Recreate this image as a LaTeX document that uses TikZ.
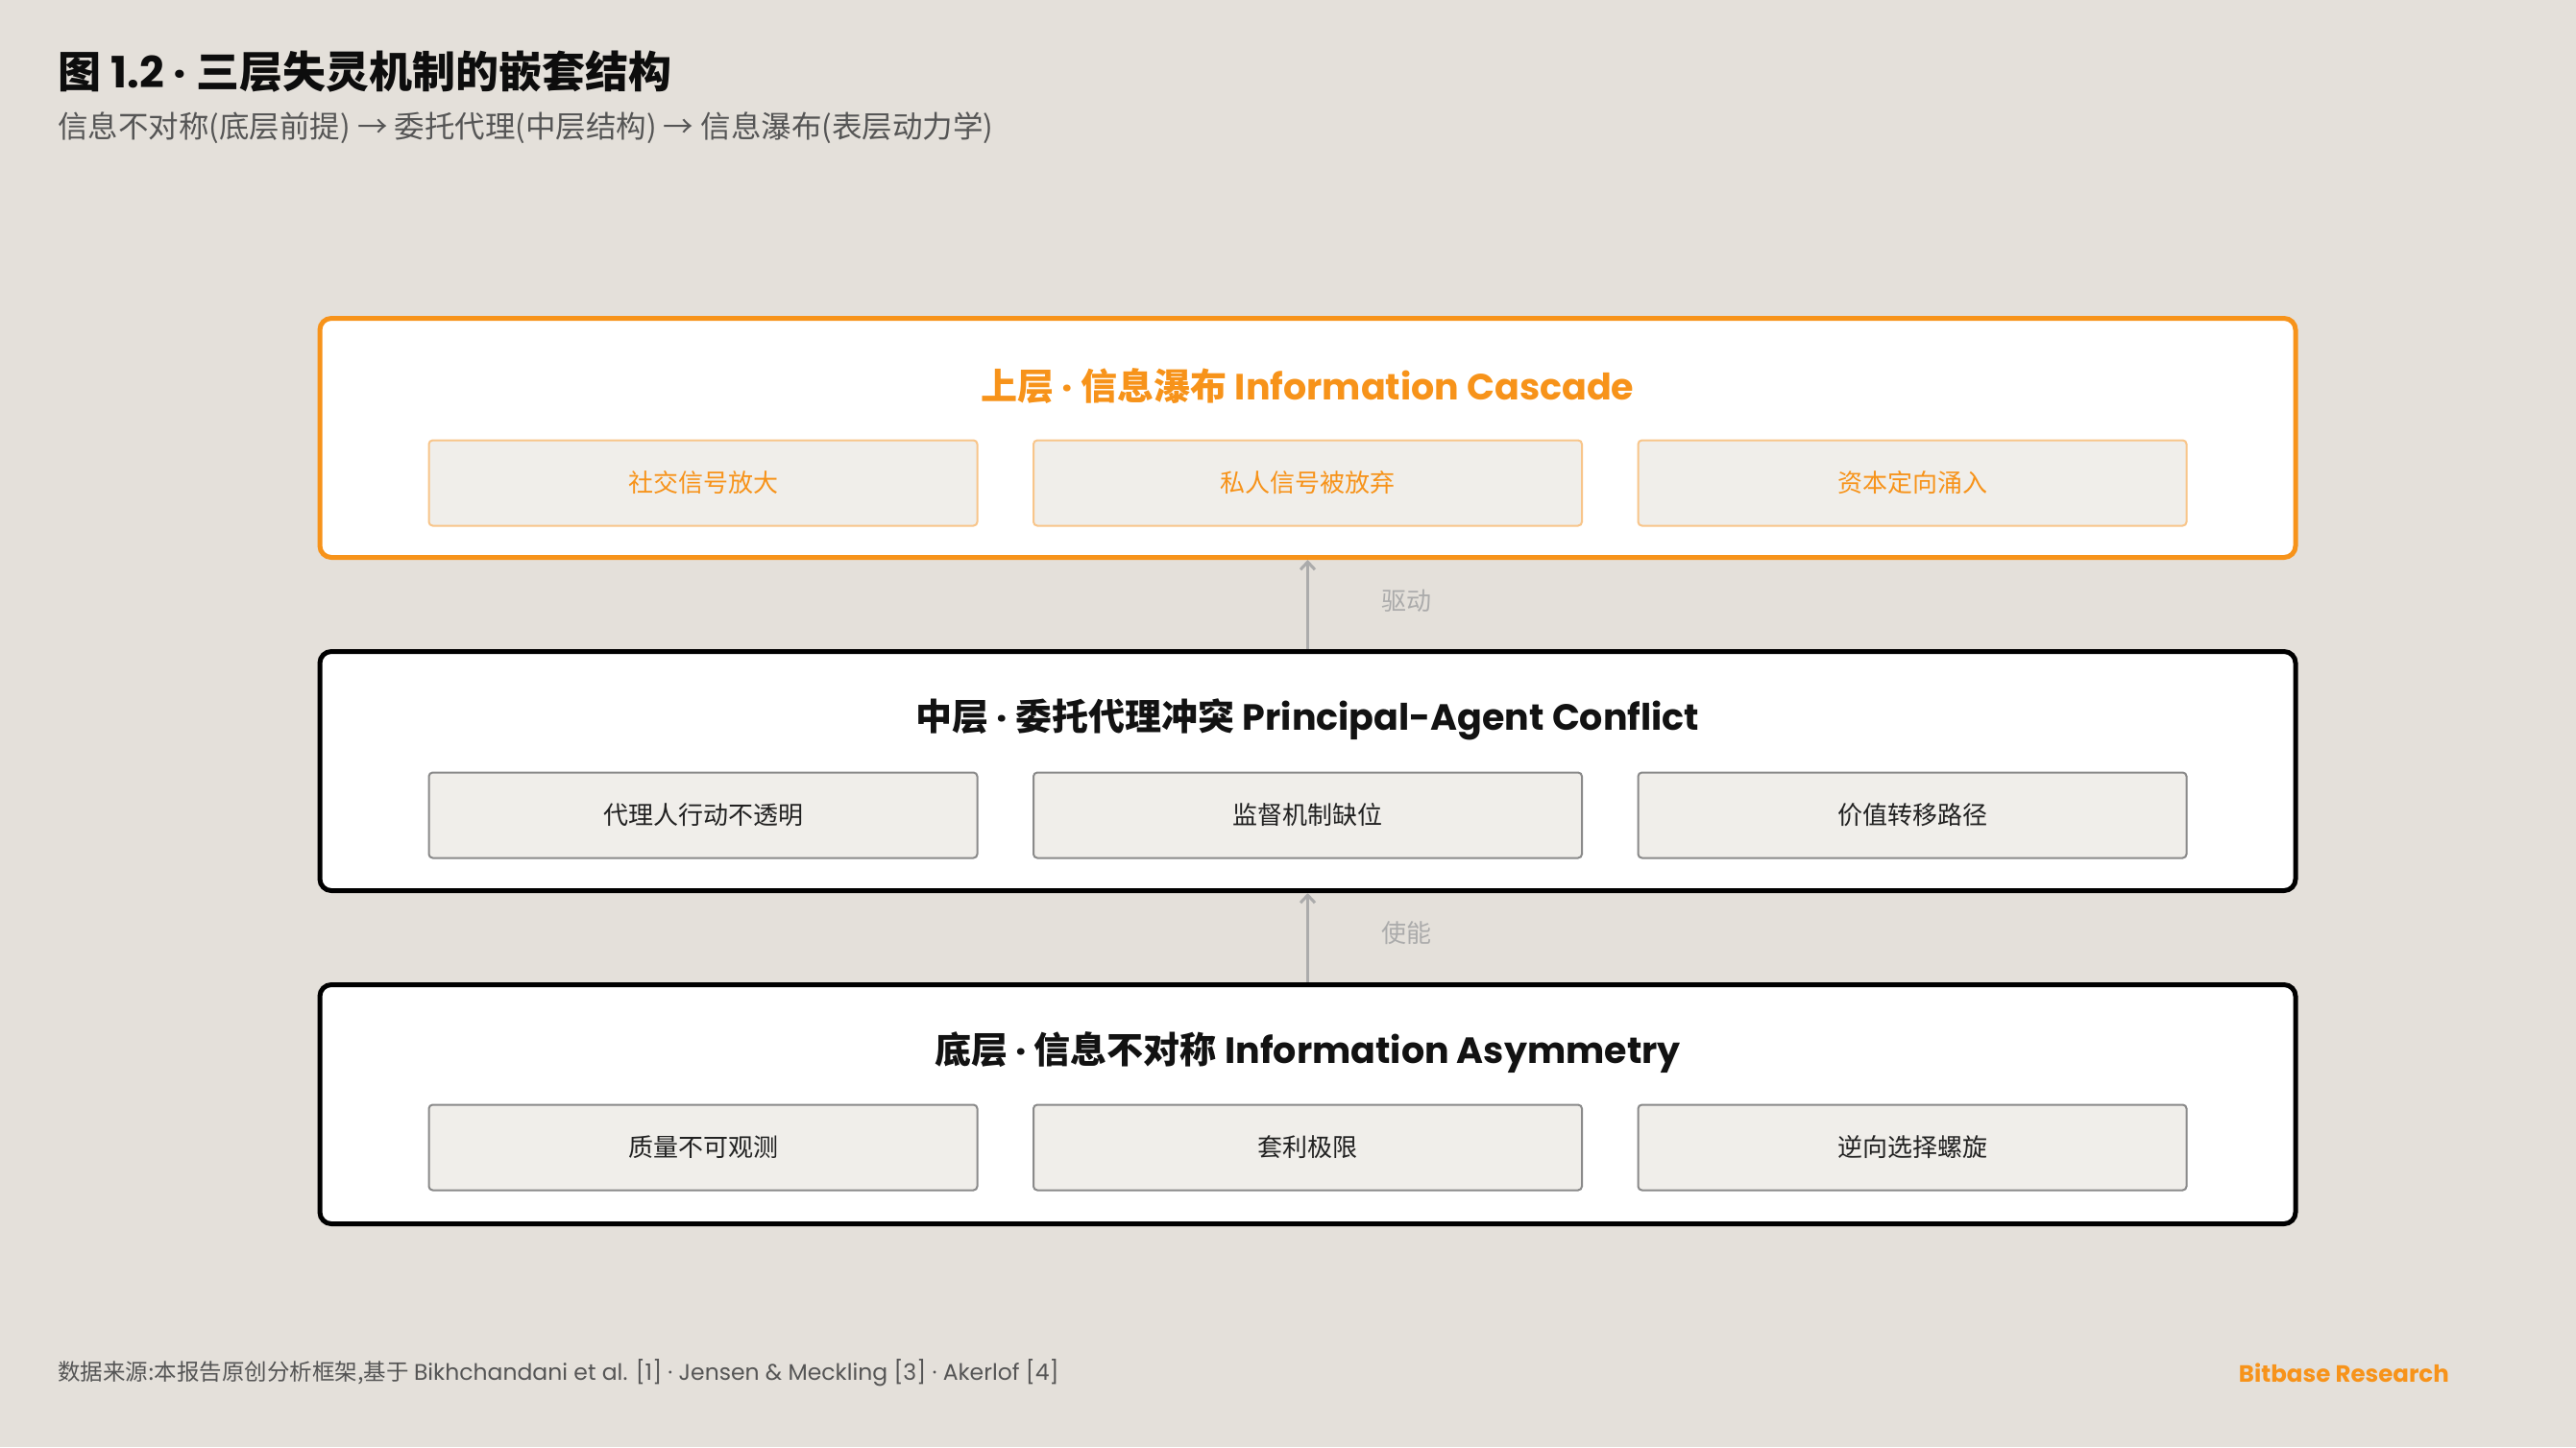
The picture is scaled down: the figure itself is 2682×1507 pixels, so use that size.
\documentclass[tikz,border=0pt]{standalone}
\usepackage{fontspec}
\setmainfont{Noto Sans CJK SC}
\newfontfamily\pop{Poppins}
\usetikzlibrary{arrows.meta}
\definecolor{bg}{HTML}{E4E0DA}
\definecolor{org}{HTML}{F7931A}
\definecolor{innerfill}{HTML}{F0EEEA}
\definecolor{innergray}{HTML}{8A8A8A}
\definecolor{innerorg}{HTML}{F8C58A}
\definecolor{arrgray}{HTML}{ABABAB}
\definecolor{subgray}{HTML}{555555}
\tikzset{
  layer/.style={draw=black, line width=5pt, fill=white, rounded corners=12pt, minimum width=2057pt, minimum height=249pt, inner sep=0pt},
  toplayer/.style={layer, draw=org},
  itembox/.style={draw=innergray, line width=2pt, fill=innerfill, rounded corners=4pt, minimum width=571pt, minimum height=89pt, inner sep=0pt, text=black!87, font=\fontsize{26pt}{30pt}\selectfont},
  topitem/.style={itembox, draw=innerorg, text=org},
  ltitle/.style={font=\fontsize{38pt}{44pt}\selectfont\bfseries, text=black!93, inner sep=0pt},
  conn/.style={draw=arrgray, line width=3.5pt, -{Straight Barb[length=8pt,width=15pt,line width=3pt]}},
  clabel/.style={text=arrgray, font=\fontsize{26pt}{30pt}\selectfont, inner sep=0pt}
}
\begin{document}
\begin{tikzpicture}[x=1pt,y=-1pt]
\fill[bg] (0,0) rectangle (2682,1507);
\useasboundingbox (0,0) rectangle (2682,1507);
% header
\node[anchor=west, inner sep=0pt, font=\fontsize{45pt}{54pt}\selectfont\bfseries, text=black!95] (title) at (60,75) {图 {\pop 1.2 ·} 三层失灵机制的嵌套结构};
\node[anchor=west, inner sep=0pt, font=\fontsize{31.5pt}{37pt}\selectfont, text=subgray] (subtitle) at (60,133) {信息不对称(底层前提) → 委托代理(中层结构) → 信息瀑布(表层动力学)};
% layers
\node[toplayer] (top) at (1361.5,456) {};
\node[layer] (mid) at (1361.5,803) {};
\node[layer] (bot) at (1361.5,1150) {};
% titles
\node[ltitle, text=org] (toptitle) at (1361.5,402) {上层{\pop{} · }信息瀑布 {\pop Information Cascade}};
\node[ltitle] (midtitle) at (1361.5,749) {中层{\pop{} · }委托代理冲突 {\pop Principal-Agent Conflict}};
\node[ltitle] (bottitle) at (1361.5,1096) {底层{\pop{} · }信息不对称 {\pop Information Asymmetry}};
% items
\node[topitem] (t1) at (732,503) {社交信号放大};
\node[topitem] (t2) at (1361.5,503) {私人信号被放弃};
\node[topitem] (t3) at (1991,503) {资本定向涌入};
\node[itembox] (m1) at (732,849) {代理人行动不透明};
\node[itembox] (m2) at (1361.5,849) {监督机制缺位};
\node[itembox] (m3) at (1991,849) {价值转移路径};
\node[itembox] (b1) at (732,1195) {质量不可观测};
\node[itembox] (b2) at (1361.5,1195) {套利极限};
\node[itembox] (b3) at (1991,1195) {逆向选择螺旋};
% connectors
\draw[conn] (mid.north) -- (top.south);
\draw[conn] (bot.north) -- (mid.south);
\node[clabel] (l1) at (1464,626) {驱动};
\node[clabel] (l2) at (1464,972) {使能};
% footer
\node[anchor=west, inner sep=0pt, font=\fontsize{23.5pt}{28pt}\selectfont, text=subgray] (foot) at (60,1430) {数据来源:本报告原创分析框架,基于 {\pop Bikhchandani et al. [1] · Jensen \& Meckling [3] · Akerlof [4]}};
\node[anchor=east, inner sep=0pt, font=\fontsize{24.5pt}{28pt}\selectfont\pop\bfseries, text=org] (brand) at (2550,1430) {Bitbase Research};
\end{tikzpicture}
\end{document}
